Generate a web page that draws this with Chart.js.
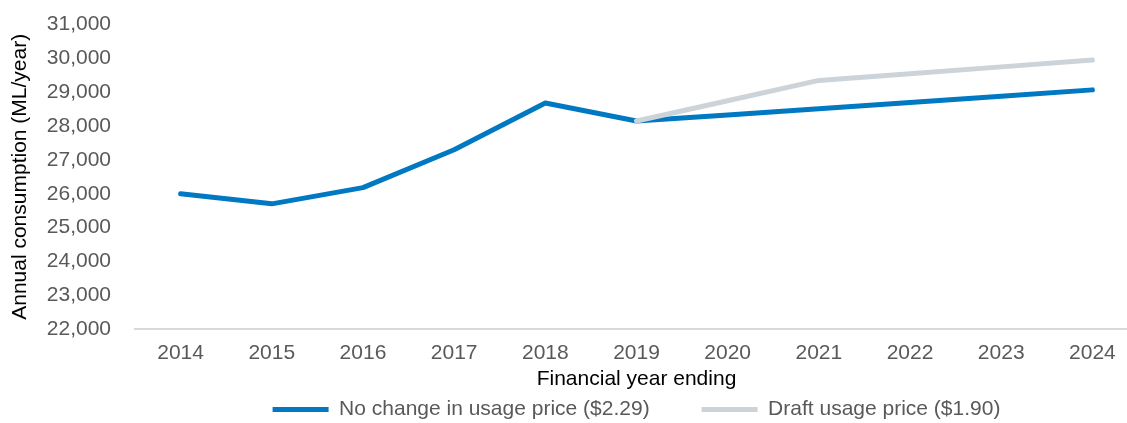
<!DOCTYPE html>
<html lang="en">
<head>
  <meta charset="UTF-8" />
  <title>Annual consumption</title>
  <script src="https://cdn.jsdelivr.net/npm/chart.js"></script>
  <style>
    html, body {
      margin: 0;
      padding: 0;
      background: #fff;
      overflow: hidden;
    }

    canvas {
      display: block;
      margin-top: -12px;
    }
  </style>
</head>
<body>
  <canvas id="usageChart" width="1140" height="442"></canvas>

  <script>
    // Financial years and annual consumption (ML/year)
    const years = ['2014', '2015', '2016', '2017', '2018', '2019', '2020', '2021', '2022', '2023', '2024'];
    const noChangePrice = [26000, 25700, 26180, 27300, 28680, 28150, 28330, 28510, 28700, 28880, 29070];
    const draftPrice = [null, null, null, null, null, 28150, 28750, 29350, 29550, 29750, 29950];
    const yMin = 22000;
    const yMax = 31000;
    const yStep = 1000;

    const font = "'Liberation Sans', Arial, sans-serif";
    const ctx = document.getElementById('usageChart').getContext('2d');

    new Chart(ctx, {
      type: 'line',
      data: {
        labels: years,
        datasets: [{
          label: 'No change in usage price ($2.29)',
          data: noChangePrice,
          borderColor: '#0079c2',
          backgroundColor: '#0079c2',
          borderWidth: 5,
          borderCapStyle: 'round',
          borderJoinStyle: 'round',
          pointRadius: 0,
          tension: 0,
          order: 1
        }, {
          label: 'Draft usage price ($1.90)',
          data: draftPrice,
          borderColor: '#cdd4d9',
          backgroundColor: '#cdd4d9',
          borderWidth: 5,
          borderCapStyle: 'round',
          borderJoinStyle: 'round',
          pointRadius: 0,
          tension: 0,
          order: 0
        }]
      },
      options: {
        responsive: false,
        animation: false,
        layout: {
          padding: { top: 11, right: 2, bottom: 0, left: 0 }
        },
        plugins: {
          tooltip: { enabled: false },
          legend: {
            position: 'bottom',
            fullSize: false,
            labels: {
              usePointStyle: true,
              pointStyle: 'line',
              pointStyleWidth: 56,
              padding: 10,
              color: '#595959',
              font: { family: font, size: 21 },
              sort: (a, b) => a.datasetIndex - b.datasetIndex,
              generateLabels(chart) {
                const items = Chart.defaults.plugins.legend.labels.generateLabels(chart);
                items.forEach(item => {
                  item.pointStyle = 'line';
                  if (item.datasetIndex === 0) item.text += '\u2002\u2002\u2002\u2002';
                });
                return items;
              }
            }
          }
        },
        scales: {
          x: {
            offset: true,
            grid: { display: false, drawTicks: false },
            border: { display: true, color: '#d9d9d9', width: 2 },
            ticks: {
              padding: 12,
              color: '#595959',
              font: { family: font, size: 21 }
            },
            title: {
              display: true,
              text: 'Financial year ending',
              color: '#000',
              padding: { top: 0, bottom: -3 },
              font: { family: font, size: 21 }
            },
            afterFit(scale) {
              scale.height = 60;
            }
          },
          y: {
            min: yMin,
            max: yMax,
            grid: { display: false, drawTicks: false },
            border: { display: false },
            ticks: {
              stepSize: yStep,
              padding: 24,
              color: '#595959',
              font: { family: font, size: 21 },
              callback: value => value.toLocaleString('en-US')
            },
            title: {
              display: true,
              text: 'Annual consumption (ML/year)',
              color: '#000',
              padding: { top: 8, bottom: 0 },
              font: { family: font, size: 21 }
            },
            afterFit(scale) {
              scale.width = 135;
            }
          }
        }
      }
    });
  </script>
</body>
</html>
